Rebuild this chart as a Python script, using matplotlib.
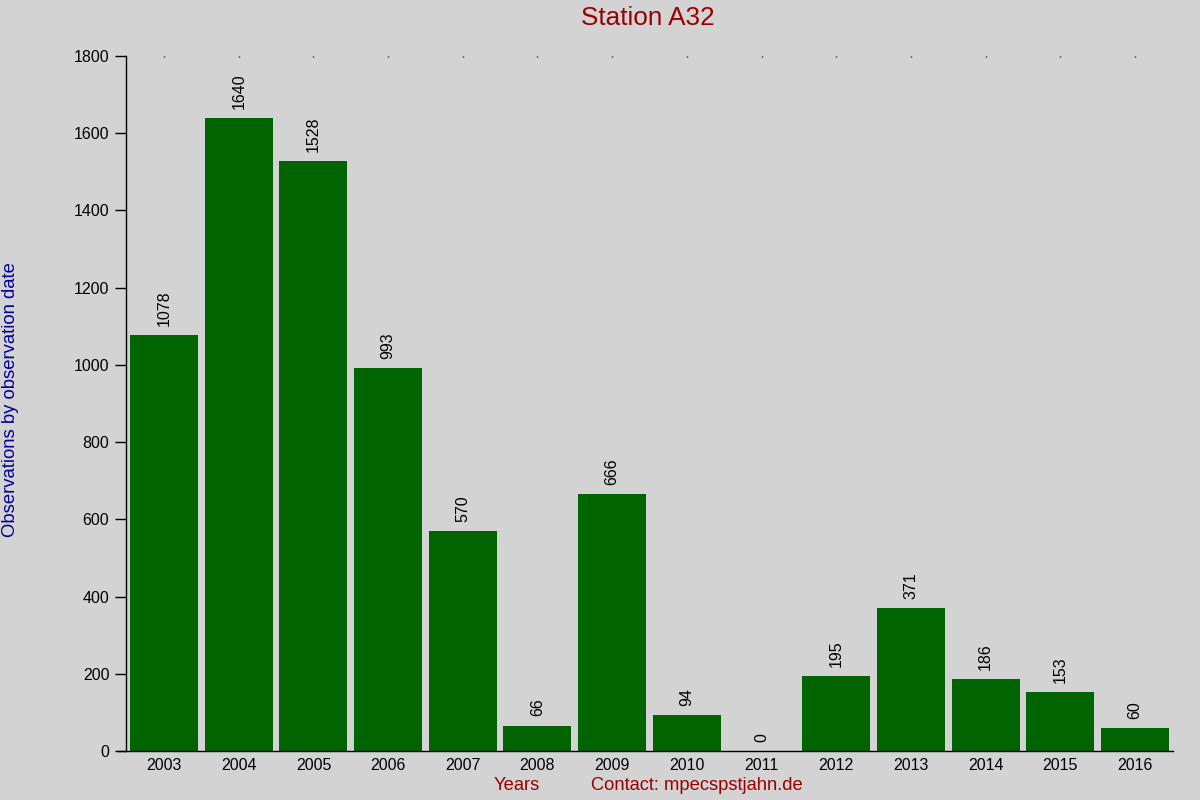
import matplotlib.pyplot as plt

plt.rcParams['font.family'] = ['Liberation Sans', 'DejaVu Sans']

# data
years = ['2003', '2004', '2005', '2006', '2007', '2008', '2009',
         '2010', '2011', '2012', '2013', '2014', '2015', '2016']
counts = [1078, 1640, 1528, 993, 570, 66, 666, 94, 0, 195, 371, 186, 153, 60]

bg = '#d3d3d3'
fig = plt.figure(figsize=(12, 8), dpi=100, facecolor=bg)
ax = fig.add_axes([0.105, 0.06125, 0.87, 0.86875], facecolor=bg)

x = range(len(years))
ax.bar(x, counts, width=0.91, color='#006400')

# value labels above bars
for i, v in enumerate(counts):
    ax.annotate(str(v), (i, v), xytext=(0, 6.5), textcoords='offset points',
                rotation=90, ha='center', va='bottom', fontsize=11.5)

ax.set_xlim(-0.51, 13.47)
ax.set_ylim(0, 1800)
ax.set_yticks(range(0, 1801, 200))
ax.set_xticks(list(x))
ax.set_xticklabels(years)
ax.tick_params(axis='x', bottom=False, labelsize=11.5, pad=5)
ax.tick_params(axis='y', length=8, width=1, labelsize=11.5, pad=4)
# tiny dots at the top edge
ax.tick_params(axis='x', top=True, length=1, width=1, direction='in')

for s in ['top', 'right']:
    ax.spines[s].set_visible(False)
ax.spines['left'].set_linewidth(1)
ax.spines['bottom'].set_linewidth(1)
ax.spines['bottom'].set_bounds(-0.62, 13.51)
ax.spines['bottom'].set_clip_on(False)

fig.text(0.54, 0.977, 'Station A32', ha='center', va='center',
         fontsize=18.8, color='#990000')
fig.text(0.002, 0.5, 'Observations by observation date', rotation=90,
         ha='left', va='center', fontsize=13.3, color='#000099')
fig.text(0.431, 0.018, 'Years', ha='center', va='center',
         fontsize=13.2, color='#990000')
fig.text(0.581, 0.018, 'Contact: mpecspstjahn.de', ha='center', va='center',
         fontsize=13.2, color='#990000')

fig.savefig('out.png', dpi=100, facecolor=bg)
